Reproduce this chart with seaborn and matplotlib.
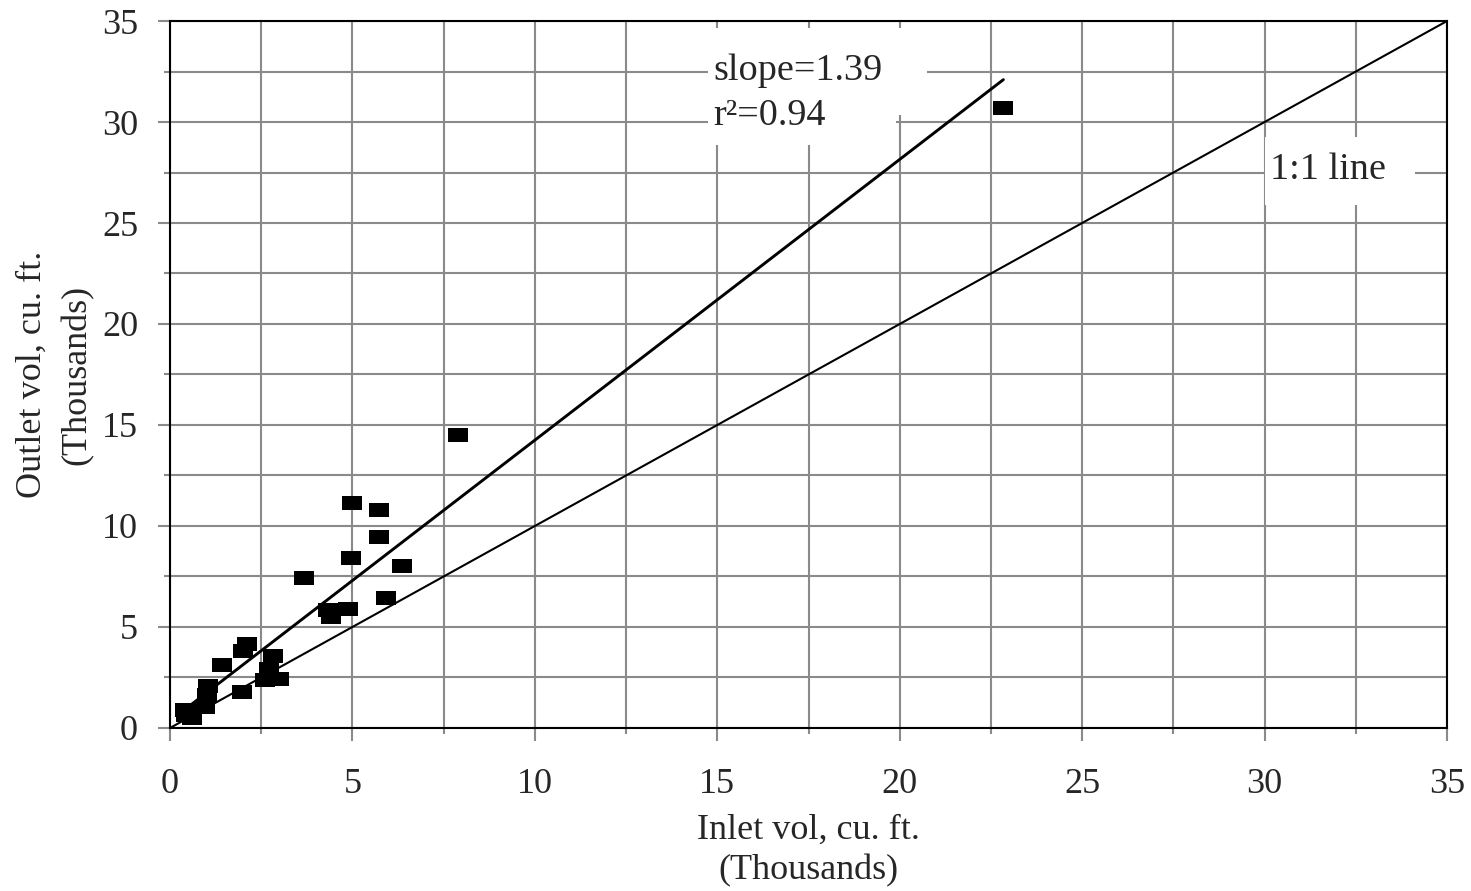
import numpy as np
import pandas as pd
import matplotlib
matplotlib.use("Agg")
import matplotlib.pyplot as plt
from matplotlib.path import Path
from matplotlib.patches import Rectangle
from matplotlib.ticker import MultipleLocator
import seaborn as sns

#------------data (thousands of cu. ft.)
inlet = [0.41, 0.59, 0.45, 0.96, 1.04, 1.01, 1.42, 1.96, 1.99, 2.12, 2.60, 2.70, 2.82,
         3.00, 3.67, 4.34, 4.41, 4.89, 4.95, 4.98, 5.73, 5.73, 5.92, 6.37, 7.89, 22.84]
outlet = [0.89, 0.48, 0.64, 1.05, 2.08, 1.63, 3.10, 1.80, 3.80, 4.15, 2.38, 2.90, 3.57,
          2.43, 7.41, 5.84, 5.51, 5.89, 8.43, 11.12, 10.79, 9.47, 6.42, 8.02, 14.50, 30.68]

slope = 1.39
intercept = 0.35
r2 = 0.94
one_to_one = [0, 35]
ticks = [0, 5, 10, 15, 20, 25, 30, 35]

df = pd.DataFrame({"inlet": inlet, "outlet": outlet})

#------------style
sns.set_style("white")
plt.rcParams['font.family'] = ['Liberation Serif', 'DejaVu Serif']
plt.rcParams['font.size'] = 26

fig = plt.figure(figsize=(14.71, 8.91), dpi=100)
ax = fig.add_axes([0.1156, 0.183, 0.8681, 0.7934])

#------------points, rectangle shaped like the excel markers
rect = Path([(-1, -0.7), (1, -0.7), (1, 0.7), (-1, 0.7), (-1, -0.7)])
sns.scatterplot(data=df, x="inlet", y="outlet", marker=rect, s=207, color="black",
                edgecolor="none", zorder=4, ax=ax, legend=False)

#------------trend line and 1:1 line
fit_x = np.array([min(inlet), max(inlet)])
ax.plot(fit_x, slope * fit_x + intercept, color="black", lw=2.1, zorder=3)
ax.plot(one_to_one, one_to_one, color="black", lw=1.5, zorder=3)

#------------axes
ax.set_xlim(0, 35)
ax.set_ylim(0, 35)
ax.set_xticks(ticks)
ax.set_yticks(ticks)
ax.xaxis.set_minor_locator(MultipleLocator(2.5))
ax.yaxis.set_minor_locator(MultipleLocator(2.5))
ax.grid(which="both", color="#8a8a8a", lw=1.5, zorder=0)
ax.set_axisbelow(True)
ax.tick_params(which="major", direction="out", length=9, width=1.5, color="#8a8a8a",
               labelsize=26, bottom=True, left=True)
ax.tick_params(axis="x", which="major", pad=20)
ax.tick_params(axis="y", which="major", pad=14)
ax.tick_params(which="minor", direction="out", length=4, width=1.5, color="#8a8a8a",
               bottom=True, left=True)
for s in ax.spines.values():
    s.set_color("black")
    s.set_linewidth(1.5)

ax.set_xlabel("Inlet vol, cu. ft.\n(Thousands)", fontsize=26, labelpad=9, linespacing=1.28)
ax.set_ylabel("Outlet vol, cu. ft.\n(Thousands)", fontsize=26, labelpad=6, linespacing=1.45)

#------------white label boxes over the grid, then the labels
for (x0, y0, w, h) in [(14.74, 30.35, 6.0, 4.3), (14.74, 28.86, 5.15, 1.6), (30.02, 25.9, 4.1, 3.37)]:
    ax.add_patch(Rectangle((x0, y0), w, h, facecolor="white", edgecolor="none", zorder=1))

ax.text(14.9, 31.43, f"slope={slope}\nr²={r2}", fontsize=27.5, va="center", ha="left",
        linespacing=1.41, zorder=2)
ax.text(30.15, 27.62, "1:1 line", fontsize=27.5, va="center", ha="left", zorder=2)

fig.savefig("out.png", dpi=100)
